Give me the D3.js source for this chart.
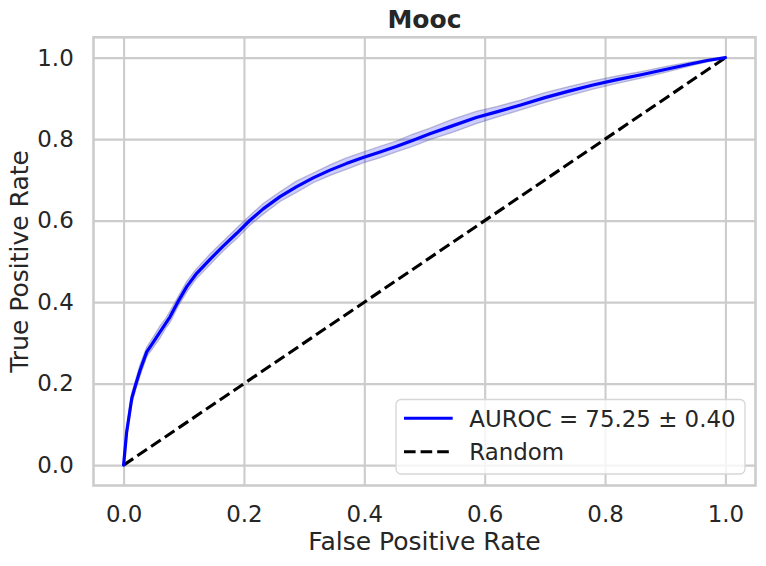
<!DOCTYPE html>
<html>
<head>
<meta charset="utf-8">
<script src="https://cdn.jsdelivr.net/npm/d3@7"></script>
<style>
  body { margin: 0; background: #fff; }
  text { font-family: "DejaVu Sans", sans-serif; fill: #262626; }
</style>
</head>
<body>
<svg id="chart" width="766" height="566"></svg>
<script>
// ---- data ----
const fpr = [0, 0.005, 0.0136, 0.02, 0.0274, 0.0385, 0.05, 0.0606, 0.07, 0.0772, 0.09, 0.105, 0.12, 0.1436, 0.165, 0.188, 0.21, 0.232, 0.26, 0.287, 0.315, 0.343, 0.37, 0.398, 0.425, 0.453, 0.48, 0.509, 0.545, 0.586, 0.62, 0.66, 0.70, 0.74, 0.78, 0.82, 0.86, 0.90, 0.94, 0.97, 1.0];
const tprMean = [0, 0.08, 0.164, 0.197, 0.233, 0.278, 0.303, 0.327, 0.348, 0.364, 0.40, 0.438, 0.468, 0.505, 0.537, 0.569, 0.601, 0.629, 0.659, 0.683, 0.705, 0.724, 0.740, 0.755, 0.768, 0.782, 0.797, 0.813, 0.832, 0.853, 0.867, 0.884, 0.902, 0.918, 0.933, 0.946, 0.958, 0.971, 0.984, 0.993, 1.0];
const tprStd = [0, 0.010, 0.013, 0.012, 0.014, 0.012, 0.013, 0.015, 0.012, 0.014, 0.012, 0.013, 0.012, 0.013, 0.012, 0.013, 0.012, 0.013, 0.012, 0.014, 0.012, 0.013, 0.014, 0.013, 0.014, 0.013, 0.015, 0.014, 0.016, 0.015, 0.013, 0.012, 0.012, 0.011, 0.010, 0.009, 0.008, 0.007, 0.005, 0.003, 0];
const randomLine = [[0, 0], [1, 1]];
const ticks = [0.0, 0.2, 0.4, 0.6, 0.8, 1.0];
const titleText = "Mooc";
const xLabel = "False Positive Rate";
const yLabel = "True Positive Rate";
const legendLabels = ["AUROC = 75.25 \u00b1 0.40", "Random"];

// ---- layout ----
const L = 93.5, R = 755.5, T = 37.3, B = 485.5;
const svg = d3.select("#chart");
const x = d3.scaleLinear().domain([-0.05, 1.05]).range([L, R]);
const y = d3.scaleLinear().domain([-0.05, 1.05]).range([B, T]);
const tickFont = "22.9px";

// grid + tick labels via axes
const gx = svg.append("g").attr("transform", `translate(0,${B})`)
  .call(d3.axisBottom(x).tickValues(ticks).tickFormat(d3.format(".1f")).tickSize(-(B - T)).tickPadding(19.8));
const gy = svg.append("g").attr("transform", `translate(${L},0)`)
  .call(d3.axisLeft(y).tickValues(ticks).tickFormat(d3.format(".1f")).tickSize(-(R - L)).tickPadding(19.8));
[gx, gy].forEach(g => {
  g.select(".domain").remove();
  g.selectAll(".tick line").attr("stroke", "#cccccc").attr("stroke-width", 2.1);
  g.selectAll(".tick text").style("font-size", tickFont).attr("fill", "#262626");
});

// band
const pts = fpr.map((f, i) => ({ f, m: tprMean[i], s: tprStd[i] }));
svg.append("path").datum(pts)
  .attr("d", d3.area().x(d => x(d.f)).y0(d => y(Math.max(0, d.m - d.s))).y1(d => y(Math.min(1, d.m + d.s))))
  .attr("fill", "rgba(0,0,255,0.2)").attr("stroke", "none");
svg.append("path").datum(pts)
  .attr("d", d3.line().x(d => x(d.f)).y(d => y(Math.min(1, d.m + d.s))))
  .attr("fill", "none").attr("stroke", "rgba(100,100,150,0.4)").attr("stroke-width", 1.3);
svg.append("path").datum(pts)
  .attr("d", d3.line().x(d => x(d.f)).y(d => y(Math.max(0, d.m - d.s))))
  .attr("fill", "none").attr("stroke", "rgba(100,100,150,0.4)").attr("stroke-width", 1.3);

// random line
svg.append("path").datum(randomLine)
  .attr("d", d3.line().x(d => x(d[0])).y(d => y(d[1])))
  .attr("fill", "none").attr("stroke", "#000").attr("stroke-width", 3.1)
  .attr("stroke-dasharray", "11.6,5");

// mean line
svg.append("path").datum(pts)
  .attr("d", d3.line().x(d => x(d.f)).y(d => y(d.m)))
  .attr("fill", "none").attr("stroke", "#0000ff").attr("stroke-width", 3.2)
  .attr("stroke-linejoin", "round").attr("stroke-linecap", "round");

// frame
svg.append("rect").attr("x", L).attr("y", T).attr("width", R - L).attr("height", B - T)
  .attr("fill", "none").attr("stroke", "#cccccc").attr("stroke-width", 2.6);

// title & labels
svg.append("text").attr("x", (L + R) / 2).attr("y", 27.5).attr("text-anchor", "middle")
  .style("font-size", "25px").style("font-weight", "bold").text(titleText);
svg.append("text").attr("x", (L + R) / 2).attr("y", 550).attr("text-anchor", "middle")
  .style("font-size", "25px").text(xLabel);
svg.append("text").attr("transform", `translate(27.5,${(T + B) / 2}) rotate(-90)`).attr("text-anchor", "middle")
  .style("font-size", "25px").text(yLabel);

// legend
const lg = svg.append("g");
lg.append("rect").attr("x", 396).attr("y", 399.5).attr("width", 349).attr("height", 74.5)
  .attr("rx", 5).attr("fill", "rgba(255,255,255,0.8)").attr("stroke", "#d6d6d6").attr("stroke-width", 1.3);
const legendStyles = [{ c: "#0000ff", dash: null }, { c: "#000", dash: "11.6,5" }];
legendLabels.forEach((lab, i) => {
  const yy = 418.3 + i * 33.5;
  lg.append("line").attr("x1", 404).attr("x2", 452.7).attr("y1", yy).attr("y2", yy)
    .attr("stroke", legendStyles[i].c).attr("stroke-width", 3.1)
    .attr("stroke-dasharray", legendStyles[i].dash);
  lg.append("text").attr("x", 469.3).attr("y", yy).attr("dy", "0.36em")
    .style("font-size", tickFont).text(lab);
});
</script>
</body>
</html>
